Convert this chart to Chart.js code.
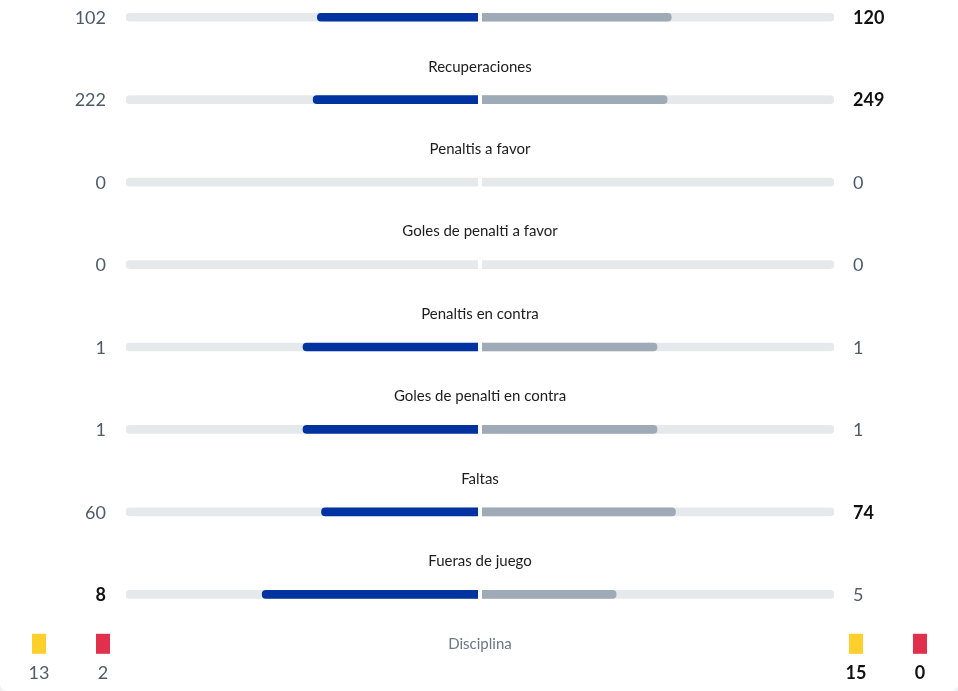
<!DOCTYPE html>
<html lang="es">
<head>
  <meta charset="UTF-8">
  <title>Comparativa</title>
  <script src="https://cdn.jsdelivr.net/npm/chart.js@4.4.0/dist/chart.umd.min.js"></script>
  <style>
    html, body { margin: 0; padding: 0; background: #eef0f2; overflow: hidden; }
    .card { position: relative; width: 958px; height: 691px; background: #fff; border-radius: 0 0 7px 7px; overflow: hidden; }
    #chart { position: absolute; left: 0; top: -24px; }
  </style>
</head>
<body>
  <div class="card">
    <canvas id="chart" width="958" height="742"></canvas>
  </div>
  <script>
    // rows (the first title sits above the visible area)
    const categories = ['Pérdidas', 'Recuperaciones', 'Penaltis a favor', 'Goles de penalti a favor',
      'Penaltis en contra', 'Goles de penalti en contra', 'Faltas', 'Fueras de juego', 'Disciplina'];
    const homeValues = [102, 222, 0, 0, 1, 1, 60, 8];
    const awayValues = [120, 249, 0, 0, 1, 1, 74, 5];

    // Disciplina: yellow / red cards
    const cardColors = ['#ffd02b', '#e0304c'];
    const homeCards = [13, 2];
    const awayCards = [15, 0];
    const awayCardsBold = [true, true];

    const BLUE = '#0033a0';
    const GREY_BAR = '#9eaab5';
    const TRACK = '#e6e9ec';
    const NUM_GREY = '#4f5b6a';
    const FONT = 'Lato, "Open Sans", sans-serif';

    const share = (v, i, side) => {
      const t = homeValues[i] + awayValues[i];
      if (!t) return null;
      return side < 0 ? [-v / t, 0] : [0, v / t];
    };

    const leftRadius = { topLeft: 4, bottomLeft: 4, topRight: 0, bottomRight: 0 };
    const rightRadius = { topLeft: 0, bottomLeft: 0, topRight: 4, bottomRight: 4 };

    const labelsPlugin = {
      id: 'sideLabels',
      afterDatasetsDraw(chart) {
        const { ctx, chartArea, scales } = chart;
        const x0 = scales.x.getPixelForValue(0);
        const band = scales.y.getPixelForValue(1) - scales.y.getPixelForValue(0);

        ctx.save();
        // centre gap between the two halves
        ctx.fillStyle = '#fff';
        ctx.fillRect(x0 - 2, chartArea.top, 4, chartArea.bottom - chartArea.top);

        ctx.textBaseline = 'middle';
        categories.forEach((name, i) => {
          const y = scales.y.getPixelForValue(i);
          const last = i === categories.length - 1;
          ctx.font = '15px ' + FONT;
          ctx.fillStyle = last ? '#6b7785' : '#1c1c1c';
          ctx.textAlign = 'center';
          ctx.fillText(name, x0, y - band * 0.4);

          if (!last) {
            const h = homeValues[i], a = awayValues[i];
            ctx.font = (h > a ? 'bold ' : '') + '18px ' + FONT;
            ctx.fillStyle = h > a ? '#111' : NUM_GREY;
            ctx.textAlign = 'right';
            ctx.fillText(String(h), chartArea.left - 20, y + 1);
            ctx.font = (a > h ? 'bold ' : '') + '18px ' + FONT;
            ctx.fillStyle = a > h ? '#111' : NUM_GREY;
            ctx.textAlign = 'left';
            ctx.fillText(String(a), chartArea.right + 19, y + 1);
          } else {
            // cards row
            const cy = y - band * 0.4;
            const homeX = [chartArea.left - 87, chartArea.left - 23];
            const awayX = [chartArea.right + 22, chartArea.right + 86];
            const drawCard = (cx, col, val, bold) => {
              ctx.fillStyle = col;
              ctx.fillRect(cx - 7, cy - 10, 14, 20);
              ctx.font = (bold ? 'bold ' : '') + '18px ' + FONT;
              ctx.fillStyle = bold ? '#111' : NUM_GREY;
              ctx.textAlign = 'center';
              ctx.fillText(String(val), cx, cy + 29);
            };
            homeCards.forEach((v, k) => drawCard(homeX[k], cardColors[k], v, false));
            awayCards.forEach((v, k) => drawCard(awayX[k], cardColors[k], v, awayCardsBold[k]));
          }
        });
        ctx.restore();
      }
    };

    const statRows = homeValues.length;

    new Chart(document.getElementById('chart'), {
      type: 'bar',
      data: {
        labels: categories,
        datasets: [
          {
            label: 'Local',
            data: homeValues.map((v, i) => share(v, i, -1)),
            backgroundColor: BLUE,
            borderRadius: leftRadius,
            borderSkipped: false,
            order: 0
          },
          {
            label: 'Visitante',
            data: awayValues.map((v, i) => share(v, i, 1)),
            backgroundColor: GREY_BAR,
            borderRadius: rightRadius,
            borderSkipped: false,
            order: 0
          },
          {
            label: 'track-left',
            data: categories.map((c, i) => i < statRows ? [-1, 0] : null),
            backgroundColor: TRACK,
            borderRadius: leftRadius,
            borderSkipped: false,
            order: 1
          },
          {
            label: 'track-right',
            data: categories.map((c, i) => i < statRows ? [0, 1] : null),
            backgroundColor: TRACK,
            borderRadius: rightRadius,
            borderSkipped: false,
            order: 1
          }
        ]
      },
      options: {
        indexAxis: 'y',
        responsive: false,
        animation: false,
        layout: { padding: { left: 126, right: 124, top: 0, bottom: 0 } },
        datasets: { bar: { grouped: false, barThickness: 8 } },
        scales: {
          x: { type: 'linear', min: -1, max: 1, display: false },
          y: { type: 'category', display: false, offset: true }
        },
        plugins: {
          legend: { display: false },
          tooltip: { enabled: false }
        }
      },
      plugins: [labelsPlugin]
    });
  </script>
</body>
</html>
